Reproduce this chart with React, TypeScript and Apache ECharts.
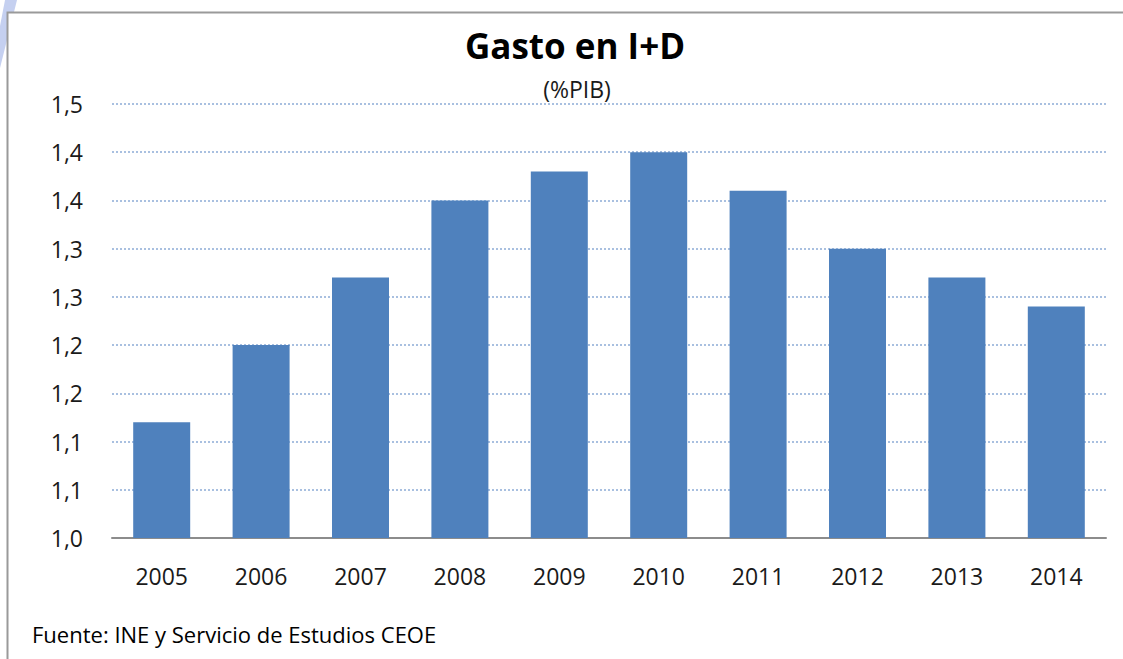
import React, { useEffect, useRef } from "react";
import * as echarts from "echarts";

const years = ["2005", "2006", "2007", "2008", "2009", "2010", "2011", "2012", "2013", "2014"];
const gastoPIB = [1.12, 1.2, 1.27, 1.35, 1.38, 1.4, 1.36, 1.3, 1.27, 1.24];
const titleText = "Gasto en I+D";
const subtitleText = "(%PIB)";
const sourceText = "Fuente: INE y Servicio de Estudios CEOE";

const FONT = "'Open Sans', Lato, sans-serif";

export default function App() {
  const ref = useRef<HTMLDivElement>(null);
  useEffect(() => {
    const chart = echarts.init(ref.current!, null, { renderer: "svg" });
    chart.setOption({
      animation: false,
      backgroundColor: "#ffffff",
      graphic: [
        {
          type: "polygon",
          shape: { points: [[5, 0], [17, 0], [0, 68], [0, 26]] },
          style: { fill: "#c5d0f0" },
          z: 0,
        },
        {
          type: "rect",
          shape: { x: 7.5, y: 12.5, width: 1130, height: 700 },
          style: { fill: "#ffffff", stroke: "#9a9a9a", lineWidth: 2 },
          z: 1,
        },
        {
          type: "text",
          x: 575,
          y: 45,
          style: { text: titleText, font: `bold 35px ${FONT}`, fill: "#000", textAlign: "center", textVerticalAlign: "middle" },
          z: 10,
        },
        {
          type: "text",
          x: 577,
          y: 89,
          style: { text: subtitleText, font: `23px ${FONT}`, fill: "#1a1a1a", textAlign: "center", textVerticalAlign: "middle" },
          z: 10,
        },
        {
          type: "text",
          x: 32,
          y: 634,
          style: { text: sourceText, font: `22px ${FONT}`, fill: "#000", textAlign: "left", textVerticalAlign: "middle" },
          z: 10,
        },
      ],
      grid: { left: 112, right: 17, top: 104, bottom: 121, containLabel: false },
      xAxis: {
        type: "category",
        data: years,
        axisLine: { lineStyle: { color: "#8c8c8c", width: 2 } },
        axisTick: { show: false },
        axisLabel: { fontFamily: FONT, fontSize: 23, color: "#1a1a1a", margin: 26 },
        z: 5,
      },
      yAxis: {
        type: "value",
        min: 1.0,
        max: 1.45,
        interval: 0.05,
        axisLine: { show: false },
        axisTick: { show: false },
        axisLabel: {
          fontFamily: FONT,
          fontSize: 23,
          color: "#1a1a1a",
          margin: 29,
          formatter: (v: number) => (Math.round(v * 10 + 1e-6) / 10).toFixed(1).replace(".", ","),
        },
        splitLine: { lineStyle: { color: "#a9c0e0", type: [2, 2], width: 2 } },
        z: 5,
      },
      series: [
        {
          type: "bar",
          data: gastoPIB,
          barWidth: 57,
          itemStyle: { color: "#4f81bd" },
          z: 6,
        },
      ],
    });
    return () => chart.dispose();
  }, []);
  return <div ref={ref} style={{ width: 1123, height: 659, position: "absolute", left: 0, top: 0 }} />;
}
